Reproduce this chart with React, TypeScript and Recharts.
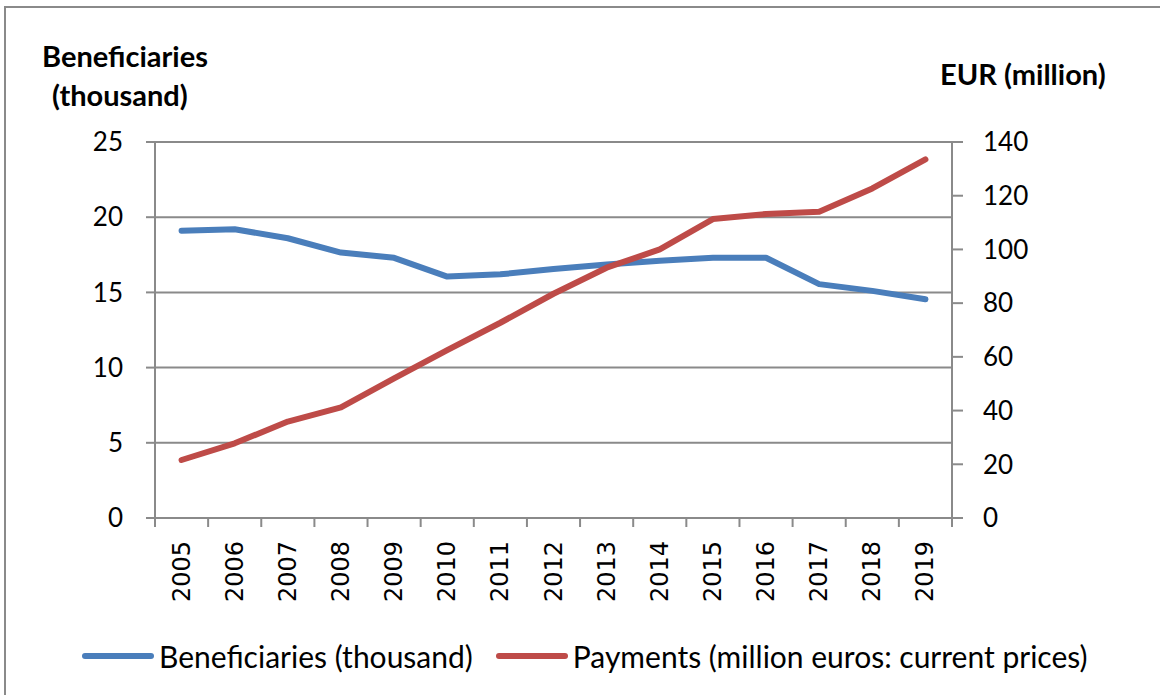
import { LineChart, Line, XAxis, YAxis, CartesianGrid } from "recharts";

const years = ["2005", "2006", "2007", "2008", "2009", "2010", "2011", "2012", "2013", "2014", "2015", "2016", "2017", "2018", "2019"];
const beneficiaries = [19.1, 19.2, 18.6, 17.65, 17.3, 16.05, 16.2, 16.55, 16.85, 17.1, 17.3, 17.3, 15.55, 15.1, 14.55];
const payments = [21.6, 27.8, 35.9, 41.2, 52.0, 62.5, 72.7, 83.5, 93.2, 100.0, 111.3, 113.2, 114.0, 122.7, 133.5];
const leftTicks = [0, 5, 10, 15, 20, 25];
const rightTicks = [0, 20, 40, 60, 80, 100, 120, 140];

const data = years.map((year, i) => ({
  year,
  beneficiaries: beneficiaries[i],
  payments: payments[i],
}));

const GRAY = "#8a8a8a";
const BLUE = "#4a7ebb";
const RED = "#be4b48";
const NUM_FONT = "Lato, sans-serif";

// Excel-style axis: tick marks between categories, labels rotated
function YearTick(props: any) {
  const { x, y, payload, index } = props;
  const half = payload.offset ?? 26.57;
  return (
    <g>
      <line x1={x - half} y1={y} x2={x - half} y2={y + 9} stroke={GRAY} strokeWidth={2} />
      {index === years.length - 1 && (
        <line x1={x + half} y1={y} x2={x + half} y2={y + 9} stroke={GRAY} strokeWidth={2} />
      )}
      <text
        transform={`translate(${x}, ${y + 23}) rotate(-90)`}
        textAnchor="end"
        dominantBaseline="central"
        fontFamily="'DejaVu Sans', sans-serif"
        fontSize={24}
        fill="#000"
      >
        {payload.value}
      </text>
    </g>
  );
}

function LegendRow() {
  const items = [
    { color: BLUE, label: "Beneficiaries (thousand)" },
    { color: RED, label: "Payments (million euros: current prices)" },
  ];
  return (
    <div
      style={{
        position: "absolute",
        left: 81,
        top: 636,
        display: "flex",
        alignItems: "center",
        fontFamily: NUM_FONT,
        fontSize: 30,
        lineHeight: "40px",
        color: "#000",
      }}
    >
      {items.map((it, i) => (
        <div key={it.label} style={{ display: "flex", alignItems: "center", marginLeft: i ? 22 : 0 }}>
          <svg width={74} height={10}>
            <line x1={4} y1={5} x2={70} y2={5} stroke={it.color} strokeWidth={6} strokeLinecap="round" />
          </svg>
          <span style={{ marginLeft: 4, whiteSpace: "nowrap" }}>{it.label}</span>
        </div>
      ))}
    </div>
  );
}

export default function App() {
  const titleStyle = {
    position: "absolute" as const,
    fontFamily: NUM_FONT,
    fontWeight: 700,
    fontSize: 29,
    color: "#000",
    lineHeight: "36px",
    whiteSpace: "nowrap" as const,
  };
  return (
    <div style={{ position: "absolute", left: 0, top: 0, width: 1160, height: 695, background: "#fff", overflow: "hidden" }}>
      <div
        style={{
          position: "absolute",
          left: 4,
          top: 6,
          width: 1160,
          height: 700,
          borderTop: `2px solid ${GRAY}`,
          borderLeft: `2px solid ${GRAY}`,
        }}
      />
      <div style={{ ...titleStyle, left: 42, top: 38 }}>Beneficiaries</div>
      <div style={{ ...titleStyle, left: 52, top: 77 }}>(thousand)</div>
      <div style={{ ...titleStyle, left: 940, top: 56 }}>EUR (million)</div>
      <LineChart
        width={1160}
        height={695}
        data={data}
        margin={{ top: 142, right: 0, left: 0, bottom: 0 }}
        style={{ position: "absolute", left: 0, top: 0 }}
      >
        <CartesianGrid yAxisId="left" vertical={false} stroke={GRAY} strokeWidth={2} />
        <XAxis
          dataKey="year"
          scale="band"
          height={177}
          interval={0}
          axisLine={{ stroke: GRAY, strokeWidth: 2 }}
          tickLine={false}
          tickSize={0}
          tickMargin={0}
          tick={<YearTick />}
        />
        <YAxis
          yAxisId="left"
          width={155}
          domain={[0, 25]}
          ticks={leftTicks}
          interval={0}
          axisLine={{ stroke: GRAY, strokeWidth: 2 }}
          tickLine={{ stroke: GRAY, strokeWidth: 2 }}
          tickSize={9}
          tickMargin={23}
          tick={{ fill: "#000", fontFamily: NUM_FONT, fontSize: 26 }}
        />
        <YAxis
          yAxisId="right"
          orientation="right"
          width={208}
          domain={[0, 140]}
          ticks={rightTicks}
          interval={0}
          axisLine={{ stroke: GRAY, strokeWidth: 2 }}
          tickLine={{ stroke: GRAY, strokeWidth: 2 }}
          tickSize={11}
          tickMargin={20}
          tick={{ fill: "#000", fontFamily: NUM_FONT, fontSize: 26, textAnchor: "start" }}
        />
        <Line
          yAxisId="left"
          dataKey="beneficiaries"
          stroke={BLUE}
          strokeWidth={6}
          strokeLinecap="round"
          strokeLinejoin="round"
          dot={false}
          activeDot={false}
          isAnimationActive={false}
        />
        <Line
          yAxisId="right"
          dataKey="payments"
          stroke={RED}
          strokeWidth={6}
          strokeLinecap="round"
          strokeLinejoin="round"
          dot={false}
          activeDot={false}
          isAnimationActive={false}
        />
      </LineChart>
      <LegendRow />
    </div>
  );
}
